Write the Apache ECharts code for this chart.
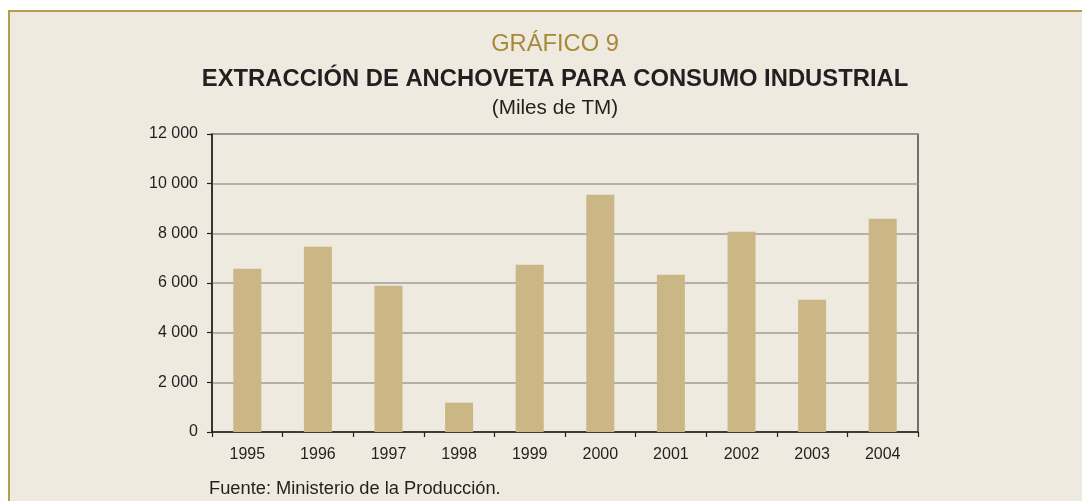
<!DOCTYPE html>
<html>
<head>
<meta charset="utf-8">
<script src="https://cdn.jsdelivr.net/npm/echarts@6/dist/echarts.min.js"></script>
<style>
html,body{margin:0;padding:0;background:#ffffff;}
#chart{width:1082px;height:501px;}
</style>
</head>
<body>
<div id="chart"></div>
<script>
const years = ['1995','1996','1997','1998','1999','2000','2001','2002','2003','2004'];
const extraccion = [6577, 7463, 5893, 1181, 6738, 9557, 6336, 8067, 5329, 8591];
const yTicks = [0, 2000, 4000, 6000, 8000, 10000, 12000];

const chart = echarts.init(document.getElementById('chart'), null, {renderer: 'canvas'});
const FONT = '"Liberation Sans", Arial, Helvetica, sans-serif';
function fmt(v){ return String(v).replace(/\B(?=(\d{3})+(?!\d))/g, ' '); }

chart.setOption({
  backgroundColor: '#ffffff',
  animation: false,
  graphic: [
    {type:'rect', z:-10, shape:{x:9, y:11, width:1200, height:600}, style:{fill:'#EEEAE0', stroke:'#B89B52', lineWidth:2}},
    {type:'text', x:555, y:44, style:{text:'GRÁFICO 9', font:'23.7px ' + FONT, fill:'#A8893A', textAlign:'center', textVerticalAlign:'middle'}},
    {type:'text', x:555, y:79, style:{text:'EXTRACCIÓN DE ANCHOVETA PARA CONSUMO INDUSTRIAL', font:'bold 23.8px ' + FONT, fill:'#231F20', textAlign:'center', textVerticalAlign:'middle'}},
    {type:'text', x:555, y:108, style:{text:'(Miles de TM)', font:'20.7px ' + FONT, fill:'#231F20', textAlign:'center', textVerticalAlign:'middle'}},
    {type:'text', x:209, y:489, style:{text:'Fuente: Ministerio de la Producción.', font:'18.3px ' + FONT, fill:'#231F20', textAlign:'left', textVerticalAlign:'middle'}}
  ],
  grid: {left:212, right:164, top:134, bottom:69, show:true, borderColor:'#231F20', borderWidth:1.2, backgroundColor:'transparent'},
  xAxis: {
    type:'category', data: years, boundaryGap:true,
    axisLine:{lineStyle:{color:'#231F20', width:1.5}},
    axisTick:{show:true, length:5, inside:false, alignWithLabel:false, lineStyle:{color:'#231F20', width:1.2}},
    axisLabel:{color:'#231F20', fontSize:16, fontFamily:FONT, margin:15}
  },
  yAxis: {
    type:'value', min:0, max:12000, interval:2000,
    axisLine:{show:true, lineStyle:{color:'#231F20', width:1.5}},
    axisTick:{show:true, length:5, lineStyle:{color:'#231F20', width:1.2}},
    axisLabel:{color:'#231F20', fontSize:16, fontFamily:FONT, margin:14, formatter: v => fmt(v)},
    splitLine:{show:true, lineStyle:{color:'#9F9D98', width:1.5}}
  },
  series: [{
    type:'bar', data: extraccion, barWidth:28,
    itemStyle:{color:'#CBB786'}
  }]
});
</script>
</body>
</html>
